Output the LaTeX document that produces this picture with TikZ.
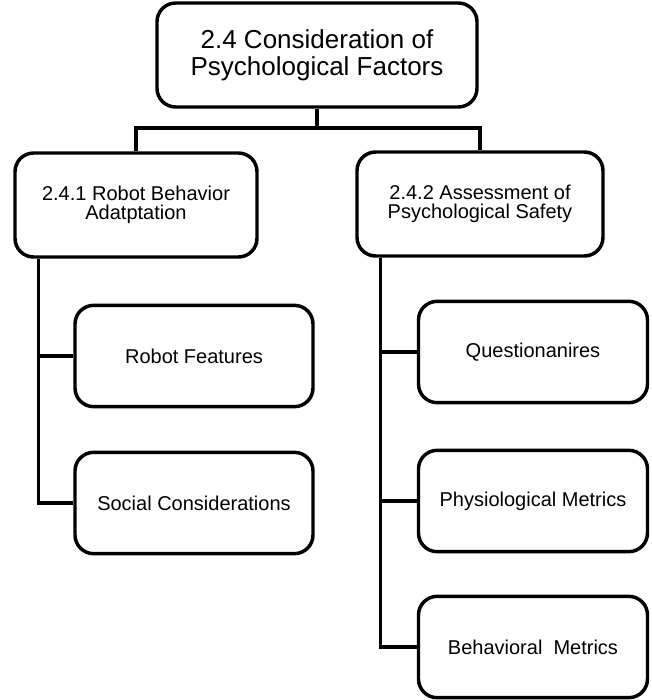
\documentclass[tikz,border=0pt]{standalone}
\usepackage{fontspec}
\setmainfont{Liberation Sans}
\usetikzlibrary{calc,
							positioning}

\begin{document}
\begin{tikzpicture}[
	x=0.75pt, y=-0.75pt,
		base/.style = {draw, line width=2.6pt, rounded corners=14pt,
									 align=center, inner sep=2pt},
	topbox/.style = {base, minimum width=240pt, minimum height=78pt,
									 font=\fontsize{19.5}{20.5}\selectfont},
	midbox/.style = {base, minimum height=78pt,
									 font=\fontsize{15}{14}\selectfont},
 leafbox/.style = {base, minimum height=76pt,
									 font=\fontsize{15}{18}\selectfont},
		link/.style = {line width=2.6pt}]
\useasboundingbox (0,0) rectangle (651,700);
%
\node [topbox]                               (T)  at (317,55)
			{2.4 Consideration of\\Psychological Factors};
\node [midbox, minimum width=181.5pt]        (L)  at (136,205)
			{2.4.1 Robot Behavior\\Adatptation};
\node [midbox, minimum width=184.5pt]        (R)  at (480,204)
			{2.4.2 Assessment of\\Psychological Safety};
%% left branch
\node [leafbox, minimum width=178.5pt]       (L1) at (194,356) {Robot Features};
\node [leafbox, minimum width=178.5pt]       (L2) at (194,503) {Social Considerations};
%% right branch
\node [leafbox, minimum width=171.75pt]      (R1) at (533,352) {Questionanires};
\node [leafbox, minimum width=171.75pt]      (R2) at (533,501) {Physiological Metrics};
\node [leafbox, minimum width=171.75pt]      (R3) at (533,647) {Behavioral~ Metrics};
%%
\coordinate (bus) at (T.south |- 0,128);
\coordinate (Lt)  at ([xshift=18.75pt] L.south west);  % <-- left trunk
\coordinate (Rt)  at ([xshift=18.75pt] R.south west);  % <-- right trunk
\draw [link] (T.south) -- (bus);
\draw [link] (L.north) |- (bus) -| (R.north);
\draw [link] (Lt) |- (L2.west)
						 (L1.west) -- (L1.west -| Lt);
\draw [link] (Rt) |- (R3.west)
						 (R1.west) -- (R1.west -| Rt)
						 (R2.west) -- (R2.west -| Rt);
\end{tikzpicture}
\end{document}
